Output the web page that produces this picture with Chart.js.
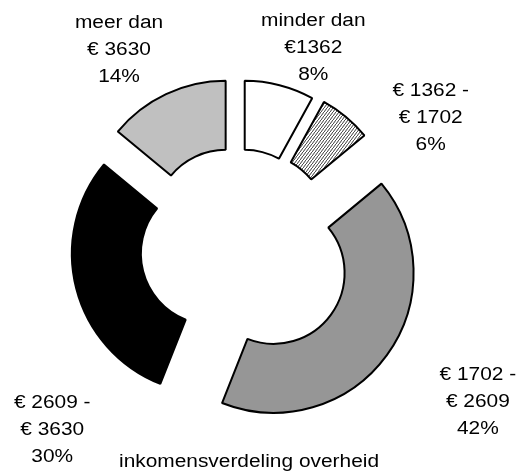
<!DOCTYPE html>
<html>
<head>
<meta charset="utf-8">
<script src="https://cdn.jsdelivr.net/npm/chart.js@4.4.6/dist/chart.umd.js"></script>
<style>
  html, body { margin: 0; padding: 0; background: #fff; }
</style>
</head>
<body>
<canvas id="myChart" width="529" height="475"></canvas>
<script>
// income brackets (label lines) and their share in %
const categories = [
    ['minder dan', '€1362'],
    ['€ 1362 -', '€ 1702'],
    ['€ 1702 -', '€ 2609'],
    ['€ 2609 -', '€ 3630'],
    ['meer dan', '€ 3630']
];
const shares = [8, 6, 42, 30, 14];
const chartTitle = 'inkomensverdeling overheid';

// how far every slice is pulled out of the ring (px)
const explode = [27, 29, 44, 27, 29];
// where the label of each slice sits: [angle from 12 o'clock in deg, distance from centre]
const labelPolar = [[20.6, 214], [55.8, 233], [122.7, 285], [225.6, 260], [329, 231]];

// diagonal hatching for the second slice
function hatch() {
    const c = document.createElement('canvas');
    c.width = 3;
    c.height = 4;
    const g = c.getContext('2d');
    g.fillStyle = '#fff';
    g.fillRect(0, 0, 3, 4);
    g.strokeStyle = '#222';
    g.lineWidth = 0.9;
    g.beginPath();
    g.moveTo(-1, 5.33);
    g.lineTo(4, -1.33);
    g.stroke();
    return g.createPattern(c, 'repeat');
}
const ctx = document.getElementById('myChart').getContext('2d');
const colors = ['#ffffff', hatch(), '#969696', '#000000', '#c0c0c0'];

// pull each slice outward along its middle angle
const explodeSlices = {
    id: 'explodeSlices',
    afterDatasetsUpdate(chart) {
        chart.getDatasetMeta(0).data.forEach((arc, i) => {
            const mid = (arc.startAngle + arc.endAngle) / 2;
            arc.x += Math.cos(mid) * explode[i];
            arc.y += Math.sin(mid) * explode[i];
        });
    }
};

function stretchedText(c, txt, x, y) {
    c.save();
    c.translate(x, y);
    c.scale(1.16, 1);
    c.fillText(txt, 0, 0);
    c.restore();
}

const sliceLabels = {
    id: 'sliceLabels',
    afterDatasetsDraw(chart) {
        const c = chart.ctx;
        const area = chart.chartArea;
        const cx = (area.left + area.right) / 2, cy = (area.top + area.bottom) / 2;
        c.save();
        c.fillStyle = '#000';
        c.font = '18px "Liberation Sans", Arial, sans-serif';
        c.textAlign = 'center';
        c.textBaseline = 'alphabetic';
        chart.getDatasetMeta(0).data.forEach((arc, i) => {
            const a = labelPolar[i][0] * Math.PI / 180;
            const x = cx + Math.sin(a) * labelPolar[i][1];
            const y = cy - Math.cos(a) * labelPolar[i][1];
            const lines = categories[i].concat(shares[i] + '%');
            lines.forEach((l, k) => stretchedText(c, l, x, y + 6.5 + (k - 1) * 27));
        });
        stretchedText(c, chartTitle, cx + 11, chart.height - 8);
        c.restore();
    }
};

const myChart = new Chart(ctx, {
    type: 'doughnut',
    data: {
        labels: categories.map(c => c.join(' ')),
        datasets: [{
            data: shares,
            backgroundColor: colors,
            borderColor: '#000',
            borderWidth: 2,
            hoverOffset: 0
        }]
    },
    options: {
        responsive: false,
        animation: false,
        radius: 140,
        cutout: '50.7%',
        layout: {
            padding: { left: 0, right: 53, top: 19, bottom: 0 }
        },
        plugins: {
            legend: { display: false },
            tooltip: { enabled: false },
            title: { display: false }
        }
    },
    plugins: [explodeSlices, sliceLabels]
});
</script>
</body>
</html>
